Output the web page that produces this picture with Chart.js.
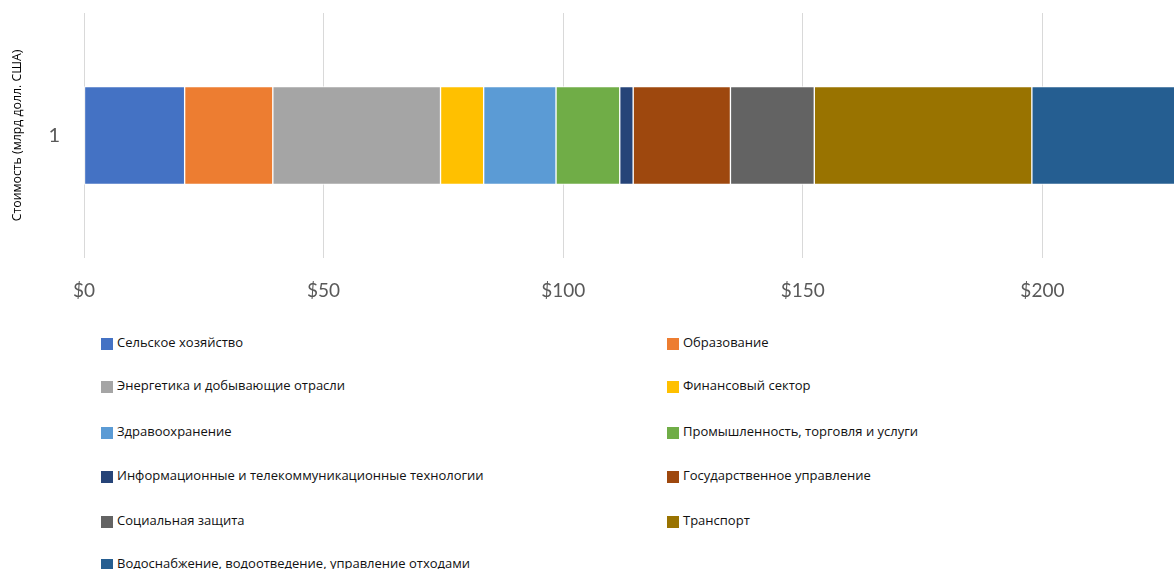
<!DOCTYPE html>
<html>
<head>
<meta charset="utf-8">
<script src="https://cdn.jsdelivr.net/npm/chart.js@4/dist/chart.umd.min.js"></script>
<style>
  html, body { margin: 0; padding: 0; background: #fff; overflow: hidden; }
  #wrap { position: relative; width: 1174px; height: 569px; overflow: hidden; background: #fff; }
  #chartBox { position: absolute; left: 0; top: 0; }
  .lg { position: absolute; font-family: "Open Sans", "Noto Sans", sans-serif; font-size: 13px; color: #111; white-space: nowrap; line-height: 16px; }
  .lg i { display: inline-block; width: 12px; height: 12px; margin-right: 4px; vertical-align: -3px; }
</style>
</head>
<body>
<div id="wrap">
  <div id="chartBox"><canvas id="c" width="1282" height="320"></canvas></div>
  <div id="legend"></div>
</div>
<script>
const categories = ['1'];
const sectors = [
  'Сельское хозяйство',
  'Образование',
  'Энергетика и добывающие отрасли',
  'Финансовый сектор',
  'Здравоохранение',
  'Промышленность, торговля и услуги',
  'Информационные и телекоммуникационные технологии',
  'Государственное управление',
  'Социальная защита',
  'Транспорт',
  'Водоснабжение, водоотведение, управление отходами'
];
const values = [21.0, 18.4, 35.0, 9.0, 15.1, 13.3, 2.8, 20.3, 17.5, 45.4, 40.0];
const colors = ['#4472C4', '#ED7D31', '#A5A5A5', '#FFC000', '#5B9BD5', '#70AD47',
                '#264478', '#9E480E', '#636363', '#997300', '#255E91'];
const xTickValues = [0, 50, 100, 150, 200, 250];
const yAxisTitle = 'Стоимость (млрд долл. США)';

const datasets = sectors.map((s, i) => ({
  label: s,
  data: [values[i]],
  backgroundColor: colors[i],
  borderColor: '#ffffff',
  borderWidth: 1,
  borderSkipped: false,
  barThickness: 98
}));

const chart = new Chart(document.getElementById('c'), {
  type: 'bar',
  data: { labels: categories, datasets },
  options: {
    indexAxis: 'y',
    responsive: false,
    animation: false,
    layout: { padding: { top: 13, left: 0, right: 0, bottom: 0 } },
    plugins: { legend: { display: false }, tooltip: { enabled: false } },
    scales: {
      x: {
        stacked: true,
        min: 0, max: 250,
        afterBuildTicks: (scale) => { scale.ticks = xTickValues.map(v => ({ value: v })); },
        ticks: {
          callback: (v) => '$' + v,
          font: { family: 'Lato, "Liberation Sans", sans-serif', size: 19 },
          color: '#595959',
          padding: 21,
          maxRotation: 0
        },
        grid: { color: '#d9d9d9', lineWidth: 1, drawTicks: false },
        border: { display: false },
        afterFit: (scale) => {
          scale.height = 62;
          scale.paddingLeft = 0; scale.paddingRight = 0;
        }
      },
      y: {
        stacked: true,
        ticks: {
          font: { family: 'Lato, "Liberation Sans", sans-serif', size: 20 },
          color: '#595959',
          padding: 24
        },
        grid: { display: false, drawTicks: false },
        border: { display: false },
        title: {
          display: true,
          text: yAxisTitle,
          font: { family: '"Open Sans", "Noto Sans", sans-serif', size: 12.3 },
          color: '#000000',
          padding: { top: 10, bottom: 0 }
        },
        afterFit: (scale) => {
          scale.width = 84;
          scale.paddingTop = 0; scale.paddingBottom = 0;
        }
      }
    }
  }
});

// Legend: two columns built from the chart's datasets
const legend = document.getElementById('legend');
const rowY = [342, 385, 431, 475, 520, 563];
const colX = [101, 667];
chart.data.datasets.forEach((ds, i) => {
  const col = i % 2, row = Math.floor(i / 2);
  const el = document.createElement('div');
  el.className = 'lg';
  el.style.left = colX[col] + 'px';
  el.style.top = (rowY[row] - 8) + 'px';
  const sw = document.createElement('i');
  sw.style.background = ds.backgroundColor;
  el.appendChild(sw);
  el.appendChild(document.createTextNode(ds.label));
  legend.appendChild(el);
});
</script>
</body>
</html>
